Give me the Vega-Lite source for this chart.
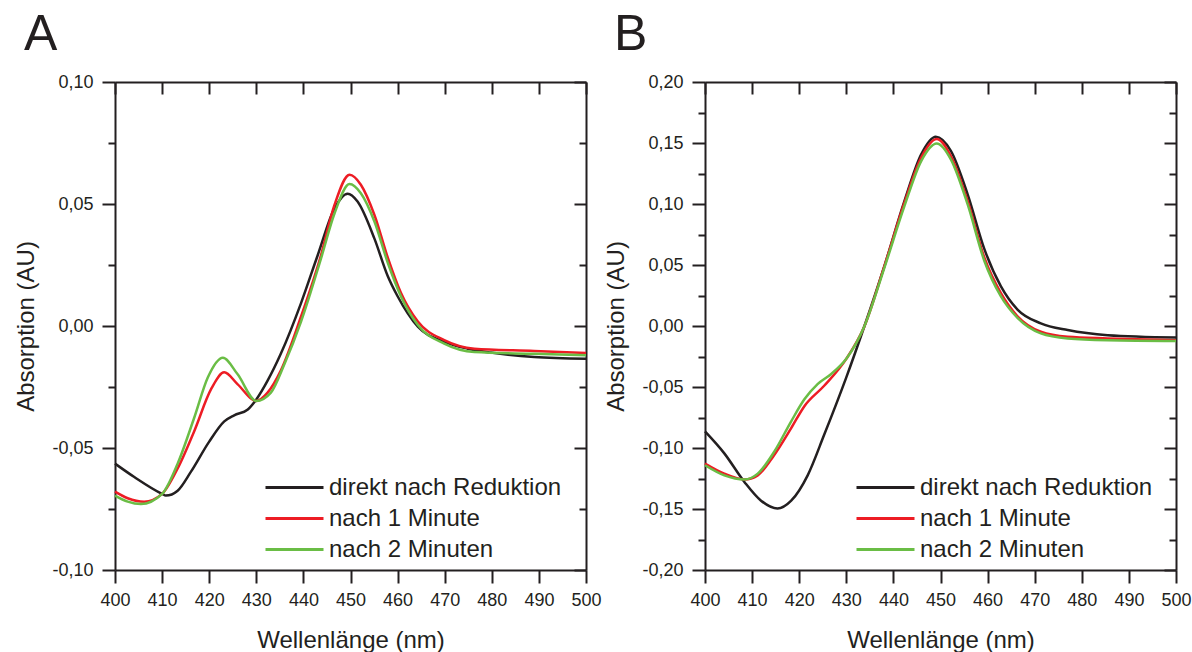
{
  "$schema": "https://vega.github.io/schema/vega-lite/v6.json",
  "padding": {"left": 14, "top": 10, "right": 0, "bottom": 0},
  "background": "white",
  "config": {
    "view": {"stroke": null},
    "font": "Liberation Sans",
    "axis": {
      "grid": false,
      "domainColor": "#231f20",
      "domainWidth": 2,
      "tickColor": "#231f20",
      "tickWidth": 2,
      "labelFont": "Liberation Sans",
      "labelFontSize": 18,
      "labelColor": "#231f20",
      "labelFlush": false,
      "labelOverlap": false,
      "titleFont": "Liberation Sans",
      "titleFontSize": 24,
      "titleFontWeight": "normal",
      "titleColor": "#231f20"
    },
    "legend": {
      "orient": "none",
      "legendX": 149,
      "legendY": 390,
      "padding": 0,
      "labelFont": "Liberation Sans",
      "labelFontSize": 24,
      "labelColor": "#231f20",
      "labelLimit": 500,
      "labelOffset": 4,
      "symbolType": "stroke",
      "symbolStrokeWidth": 3,
      "symbolSize": 3364,
      "clipHeight": 31,
      "rowPadding": 0
    },
    "title": {
      "font": "Liberation Sans",
      "fontSize": 50,
      "fontWeight": "normal",
      "color": "#231f20",
      "anchor": "start",
      "frame": "bounds",
      "offset": 13
    }
  },
  "datasets": {
    "A": [
      {"nm": 400, "v": -0.0564, "s": "direkt nach Reduktion"},
      {"nm": 404.1, "v": -0.0619, "s": "direkt nach Reduktion"},
      {"nm": 410, "v": -0.0688, "s": "direkt nach Reduktion"},
      {"nm": 410.8, "v": -0.0695, "s": "direkt nach Reduktion"},
      {"nm": 413.3, "v": -0.0675, "s": "direkt nach Reduktion"},
      {"nm": 416.1, "v": -0.0598, "s": "direkt nach Reduktion"},
      {"nm": 420, "v": -0.0474, "s": "direkt nach Reduktion"},
      {"nm": 423.2, "v": -0.0391, "s": "direkt nach Reduktion"},
      {"nm": 425.3, "v": -0.0366, "s": "direkt nach Reduktion"},
      {"nm": 428.2, "v": -0.0342, "s": "direkt nach Reduktion"},
      {"nm": 430, "v": -0.0301, "s": "direkt nach Reduktion"},
      {"nm": 432.4, "v": -0.0224, "s": "direkt nach Reduktion"},
      {"nm": 435.2, "v": -0.0114, "s": "direkt nach Reduktion"},
      {"nm": 439.5, "v": 0.0094, "s": "direkt nach Reduktion"},
      {"nm": 443, "v": 0.0288, "s": "direkt nach Reduktion"},
      {"nm": 446.6, "v": 0.0482, "s": "direkt nach Reduktion"},
      {"nm": 449.4, "v": 0.0542, "s": "direkt nach Reduktion"},
      {"nm": 451.5, "v": 0.051, "s": "direkt nach Reduktion"},
      {"nm": 455.1, "v": 0.0357, "s": "direkt nach Reduktion"},
      {"nm": 457.9, "v": 0.0205, "s": "direkt nach Reduktion"},
      {"nm": 460, "v": 0.0122, "s": "direkt nach Reduktion"},
      {"nm": 464.3, "v": -0.0003, "s": "direkt nach Reduktion"},
      {"nm": 469.9, "v": -0.0065, "s": "direkt nach Reduktion"},
      {"nm": 474.9, "v": -0.0093, "s": "direkt nach Reduktion"},
      {"nm": 479.8, "v": -0.0109, "s": "direkt nach Reduktion"},
      {"nm": 489, "v": -0.0127, "s": "direkt nach Reduktion"},
      {"nm": 500, "v": -0.0134, "s": "direkt nach Reduktion"},
      {"nm": 400, "v": -0.0679, "s": "nach 1 Minute"},
      {"nm": 402.7, "v": -0.0706, "s": "nach 1 Minute"},
      {"nm": 406.2, "v": -0.072, "s": "nach 1 Minute"},
      {"nm": 410, "v": -0.0688, "s": "nach 1 Minute"},
      {"nm": 413.3, "v": -0.0584, "s": "nach 1 Minute"},
      {"nm": 416.8, "v": -0.0432, "s": "nach 1 Minute"},
      {"nm": 420.4, "v": -0.0259, "s": "nach 1 Minute"},
      {"nm": 423.2, "v": -0.019, "s": "nach 1 Minute"},
      {"nm": 426, "v": -0.0238, "s": "nach 1 Minute"},
      {"nm": 430, "v": -0.0307, "s": "nach 1 Minute"},
      {"nm": 432.4, "v": -0.0273, "s": "nach 1 Minute"},
      {"nm": 435.2, "v": -0.0183, "s": "nach 1 Minute"},
      {"nm": 439.5, "v": 0.0039, "s": "nach 1 Minute"},
      {"nm": 443.7, "v": 0.0288, "s": "nach 1 Minute"},
      {"nm": 446.6, "v": 0.0496, "s": "nach 1 Minute"},
      {"nm": 449.8, "v": 0.062, "s": "nach 1 Minute"},
      {"nm": 452.2, "v": 0.0579, "s": "nach 1 Minute"},
      {"nm": 455.1, "v": 0.0454, "s": "nach 1 Minute"},
      {"nm": 457.9, "v": 0.0281, "s": "nach 1 Minute"},
      {"nm": 460.7, "v": 0.0136, "s": "nach 1 Minute"},
      {"nm": 464.3, "v": 0.0018, "s": "nach 1 Minute"},
      {"nm": 469.9, "v": -0.0058, "s": "nach 1 Minute"},
      {"nm": 476.3, "v": -0.0093, "s": "nach 1 Minute"},
      {"nm": 489, "v": -0.0102, "s": "nach 1 Minute"},
      {"nm": 500, "v": -0.0111, "s": "nach 1 Minute"},
      {"nm": 400, "v": -0.0695, "s": "nach 2 Minuten"},
      {"nm": 402.7, "v": -0.072, "s": "nach 2 Minuten"},
      {"nm": 405.5, "v": -0.073, "s": "nach 2 Minuten"},
      {"nm": 410, "v": -0.0688, "s": "nach 2 Minuten"},
      {"nm": 413.3, "v": -0.0564, "s": "nach 2 Minuten"},
      {"nm": 416.8, "v": -0.0377, "s": "nach 2 Minuten"},
      {"nm": 419.7, "v": -0.0211, "s": "nach 2 Minuten"},
      {"nm": 422.9, "v": -0.013, "s": "nach 2 Minuten"},
      {"nm": 426, "v": -0.0197, "s": "nach 2 Minuten"},
      {"nm": 430, "v": -0.0307, "s": "nach 2 Minuten"},
      {"nm": 433.1, "v": -0.0273, "s": "nach 2 Minuten"},
      {"nm": 436, "v": -0.0155, "s": "nach 2 Minuten"},
      {"nm": 439.5, "v": 0.0018, "s": "nach 2 Minuten"},
      {"nm": 443.7, "v": 0.0274, "s": "nach 2 Minuten"},
      {"nm": 446.6, "v": 0.0461, "s": "nach 2 Minuten"},
      {"nm": 449.8, "v": 0.0582, "s": "nach 2 Minuten"},
      {"nm": 452.2, "v": 0.0544, "s": "nach 2 Minuten"},
      {"nm": 455.1, "v": 0.0427, "s": "nach 2 Minuten"},
      {"nm": 457.9, "v": 0.026, "s": "nach 2 Minuten"},
      {"nm": 460.7, "v": 0.0122, "s": "nach 2 Minuten"},
      {"nm": 464.3, "v": 0.0004, "s": "nach 2 Minuten"},
      {"nm": 469.9, "v": -0.0072, "s": "nach 2 Minuten"},
      {"nm": 476.3, "v": -0.0107, "s": "nach 2 Minuten"},
      {"nm": 489, "v": -0.0114, "s": "nach 2 Minuten"},
      {"nm": 500, "v": -0.012, "s": "nach 2 Minuten"}
    ],
    "B": [
      {"nm": 400, "v": -0.0864, "s": "direkt nach Reduktion"},
      {"nm": 404.1, "v": -0.1044, "s": "direkt nach Reduktion"},
      {"nm": 408.4, "v": -0.128, "s": "direkt nach Reduktion"},
      {"nm": 411.9, "v": -0.1432, "s": "direkt nach Reduktion"},
      {"nm": 415.4, "v": -0.1496, "s": "direkt nach Reduktion"},
      {"nm": 418.3, "v": -0.1432, "s": "direkt nach Reduktion"},
      {"nm": 421.8, "v": -0.1224, "s": "direkt nach Reduktion"},
      {"nm": 425.3, "v": -0.0892, "s": "direkt nach Reduktion"},
      {"nm": 430, "v": -0.0421, "s": "direkt nach Reduktion"},
      {"nm": 433.8, "v": -0.0006, "s": "direkt nach Reduktion"},
      {"nm": 438.1, "v": 0.0493, "s": "direkt nach Reduktion"},
      {"nm": 442.3, "v": 0.1019, "s": "direkt nach Reduktion"},
      {"nm": 445.9, "v": 0.1407, "s": "direkt nach Reduktion"},
      {"nm": 449, "v": 0.1551, "s": "direkt nach Reduktion"},
      {"nm": 452.2, "v": 0.1435, "s": "direkt nach Reduktion"},
      {"nm": 455.8, "v": 0.1075, "s": "direkt nach Reduktion"},
      {"nm": 459.3, "v": 0.0632, "s": "direkt nach Reduktion"},
      {"nm": 462.8, "v": 0.0327, "s": "direkt nach Reduktion"},
      {"nm": 466.4, "v": 0.0133, "s": "direkt nach Reduktion"},
      {"nm": 471.3, "v": 0.0022, "s": "direkt nach Reduktion"},
      {"nm": 477, "v": -0.0033, "s": "direkt nach Reduktion"},
      {"nm": 485.5, "v": -0.0075, "s": "direkt nach Reduktion"},
      {"nm": 500, "v": -0.0094, "s": "direkt nach Reduktion"},
      {"nm": 400, "v": -0.1127, "s": "nach 1 Minute"},
      {"nm": 404.1, "v": -0.121, "s": "nach 1 Minute"},
      {"nm": 408.4, "v": -0.1258, "s": "nach 1 Minute"},
      {"nm": 411.2, "v": -0.1224, "s": "nach 1 Minute"},
      {"nm": 414.7, "v": -0.1058, "s": "nach 1 Minute"},
      {"nm": 418.3, "v": -0.0837, "s": "nach 1 Minute"},
      {"nm": 421.1, "v": -0.0657, "s": "nach 1 Minute"},
      {"nm": 425.3, "v": -0.049, "s": "nach 1 Minute"},
      {"nm": 430, "v": -0.0269, "s": "nach 1 Minute"},
      {"nm": 433.8, "v": -0.0006, "s": "nach 1 Minute"},
      {"nm": 438.1, "v": 0.0493, "s": "nach 1 Minute"},
      {"nm": 442.3, "v": 0.1006, "s": "nach 1 Minute"},
      {"nm": 445.9, "v": 0.138, "s": "nach 1 Minute"},
      {"nm": 449.2, "v": 0.1532, "s": "nach 1 Minute"},
      {"nm": 452.2, "v": 0.1393, "s": "nach 1 Minute"},
      {"nm": 455.8, "v": 0.1019, "s": "nach 1 Minute"},
      {"nm": 459.3, "v": 0.0562, "s": "nach 1 Minute"},
      {"nm": 462.8, "v": 0.0271, "s": "nach 1 Minute"},
      {"nm": 466.4, "v": 0.0078, "s": "nach 1 Minute"},
      {"nm": 471.3, "v": -0.0047, "s": "nach 1 Minute"},
      {"nm": 477, "v": -0.0089, "s": "nach 1 Minute"},
      {"nm": 485.5, "v": -0.0102, "s": "nach 1 Minute"},
      {"nm": 500, "v": -0.0116, "s": "nach 1 Minute"},
      {"nm": 400, "v": -0.1141, "s": "nach 2 Minuten"},
      {"nm": 404.1, "v": -0.1224, "s": "nach 2 Minuten"},
      {"nm": 408.4, "v": -0.1258, "s": "nach 2 Minuten"},
      {"nm": 411.2, "v": -0.121, "s": "nach 2 Minuten"},
      {"nm": 414.7, "v": -0.103, "s": "nach 2 Minuten"},
      {"nm": 418.3, "v": -0.0781, "s": "nach 2 Minuten"},
      {"nm": 421.1, "v": -0.0601, "s": "nach 2 Minuten"},
      {"nm": 423.9, "v": -0.0476, "s": "nach 2 Minuten"},
      {"nm": 426.8, "v": -0.0393, "s": "nach 2 Minuten"},
      {"nm": 430, "v": -0.0269, "s": "nach 2 Minuten"},
      {"nm": 433.8, "v": -0.0006, "s": "nach 2 Minuten"},
      {"nm": 438.1, "v": 0.0479, "s": "nach 2 Minuten"},
      {"nm": 442.3, "v": 0.0978, "s": "nach 2 Minuten"},
      {"nm": 445.9, "v": 0.1352, "s": "nach 2 Minuten"},
      {"nm": 449.2, "v": 0.1496, "s": "nach 2 Minuten"},
      {"nm": 452.2, "v": 0.1366, "s": "nach 2 Minuten"},
      {"nm": 455.8, "v": 0.0992, "s": "nach 2 Minuten"},
      {"nm": 459.3, "v": 0.0535, "s": "nach 2 Minuten"},
      {"nm": 462.8, "v": 0.0244, "s": "nach 2 Minuten"},
      {"nm": 466.4, "v": 0.0064, "s": "nach 2 Minuten"},
      {"nm": 471.3, "v": -0.0061, "s": "nach 2 Minuten"},
      {"nm": 477, "v": -0.0102, "s": "nach 2 Minuten"},
      {"nm": 485.5, "v": -0.0116, "s": "nach 2 Minuten"},
      {"nm": 500, "v": -0.0122, "s": "nach 2 Minuten"}
    ]
  },
  "spacing": 2,
  "hconcat": [
    {
      "width": 471,
      "height": 488,
      "title": {"text": "A", "dx": 9},
      "data": {"name": "A"},
      "resolve": {"axis": {"x": "independent", "y": "independent"}},
      "layer": [
        {
          "mark": {"type": "line", "strokeWidth": 2.5, "interpolate": "monotone"},
          "encoding": {
            "x": {"field": "nm", "type": "quantitative", "scale": {"domain": [400, 500], "nice": false, "zero": false},
              "axis": {"orient": "bottom", "values": [400, 410, 420, 430, 440, 450, 460, 470, 480, 490, 500], "tickSize": 13, "labelPadding": 8, "title": "Wellenlänge (nm)", "titlePadding": 19}},
            "y": {"field": "v", "type": "quantitative", "scale": {"domain": [-0.1, 0.1], "nice": false, "zero": false},
              "axis": {"orient": "left", "values": [-0.1, -0.05, 0, 0.05, 0.1], "tickSize": 13, "labelPadding": 9, "title": "Absorption (AU)", "titlePadding": 13,
                "labelExpr": "(datum.value < -0.0001 ? '-' : '') + replace(format(abs(datum.value), '.2f'), '.', ',')"}},
            "color": {"field": "s", "type": "nominal",
              "scale": {"domain": ["direkt nach Reduktion", "nach 1 Minute", "nach 2 Minuten"], "range": ["#231f20", "#ed1c24", "#6abd45"]},
              "legend": {"title": null}}
          }
        },
        {
          "mark": {"type": "line", "opacity": 0},
          "encoding": {
            "x": {"field": "nm", "type": "quantitative", "scale": {"domain": [400, 500], "nice": false, "zero": false},
              "axis": {"orient": "top", "values": [400, 410, 420, 430, 440, 450, 460, 470, 480, 490, 500], "tickSize": -12, "labels": false, "title": null}},
            "y": {"field": "v", "type": "quantitative", "scale": {"domain": [-0.1, 0.1], "nice": false, "zero": false},
              "axis": {"orient": "left", "values": [-0.075, -0.025, 0.025, 0.075], "tickSize": 7, "labels": false, "domain": false, "title": null}},
            "detail": {"field": "s"}
          }
        },
        {
          "mark": {"type": "line", "opacity": 0},
          "encoding": {
            "x": {"field": "nm", "type": "quantitative", "axis": null},
            "y": {"field": "v", "type": "quantitative",
              "axis": {"orient": "right", "values": [-0.1, -0.05, 0, 0.05, 0.1], "tickSize": -12, "labels": false, "title": null}},
            "detail": {"field": "s"}
          }
        },
        {
          "mark": {"type": "line", "opacity": 0},
          "encoding": {
            "x": {"field": "nm", "type": "quantitative", "axis": null},
            "y": {"field": "v", "type": "quantitative",
              "axis": {"orient": "right", "values": [-0.075, -0.025, 0.025, 0.075], "tickSize": -7, "labels": false, "domain": false, "title": null}},
            "detail": {"field": "s"}
          }
        }
      ]
    },
    {
      "width": 471,
      "height": 488,
      "title": {"text": "B", "dx": 9},
      "data": {"name": "B"},
      "resolve": {"axis": {"x": "independent", "y": "independent"}},
      "layer": [
        {
          "mark": {"type": "line", "strokeWidth": 2.5, "interpolate": "monotone"},
          "encoding": {
            "x": {"field": "nm", "type": "quantitative", "scale": {"domain": [400, 500], "nice": false, "zero": false},
              "axis": {"orient": "bottom", "values": [400, 410, 420, 430, 440, 450, 460, 470, 480, 490, 500], "tickSize": 13, "labelPadding": 8, "title": "Wellenlänge (nm)", "titlePadding": 19}},
            "y": {"field": "v", "type": "quantitative", "scale": {"domain": [-0.2, 0.2], "nice": false, "zero": false},
              "axis": {"orient": "left", "values": [-0.2, -0.15, -0.1, -0.05, 0, 0.05, 0.1, 0.15, 0.2], "tickSize": 13, "labelPadding": 9, "title": "Absorption (AU)", "titlePadding": 13,
                "labelExpr": "(datum.value < -0.0001 ? '-' : '') + replace(format(abs(datum.value), '.2f'), '.', ',')"}},
            "color": {"field": "s", "type": "nominal",
              "scale": {"domain": ["direkt nach Reduktion", "nach 1 Minute", "nach 2 Minuten"], "range": ["#231f20", "#ed1c24", "#6abd45"]},
              "legend": {"title": null, "legendX": 150}}
          }
        },
        {
          "mark": {"type": "line", "opacity": 0},
          "encoding": {
            "x": {"field": "nm", "type": "quantitative", "scale": {"domain": [400, 500], "nice": false, "zero": false},
              "axis": {"orient": "top", "values": [400, 410, 420, 430, 440, 450, 460, 470, 480, 490, 500], "tickSize": -12, "labels": false, "title": null}},
            "y": {"field": "v", "type": "quantitative", "scale": {"domain": [-0.2, 0.2], "nice": false, "zero": false},
              "axis": {"orient": "left", "values": [-0.175, -0.125, -0.075, -0.025, 0.025, 0.075, 0.125, 0.175], "tickSize": 7, "labels": false, "domain": false, "title": null}},
            "detail": {"field": "s"}
          }
        },
        {
          "mark": {"type": "line", "opacity": 0},
          "encoding": {
            "x": {"field": "nm", "type": "quantitative", "axis": null},
            "y": {"field": "v", "type": "quantitative",
              "axis": {"orient": "right", "values": [-0.2, -0.15, -0.1, -0.05, 0, 0.05, 0.1, 0.15, 0.2], "tickSize": -12, "labels": false, "title": null}},
            "detail": {"field": "s"}
          }
        },
        {
          "mark": {"type": "line", "opacity": 0},
          "encoding": {
            "x": {"field": "nm", "type": "quantitative", "axis": null},
            "y": {"field": "v", "type": "quantitative",
              "axis": {"orient": "right", "values": [-0.175, -0.125, -0.075, -0.025, 0.025, 0.075, 0.125, 0.175], "tickSize": -7, "labels": false, "domain": false, "title": null}},
            "detail": {"field": "s"}
          }
        }
      ]
    }
  ],
  "resolve": {"scale": {"color": "independent"}, "legend": {"color": "independent"}}
}
